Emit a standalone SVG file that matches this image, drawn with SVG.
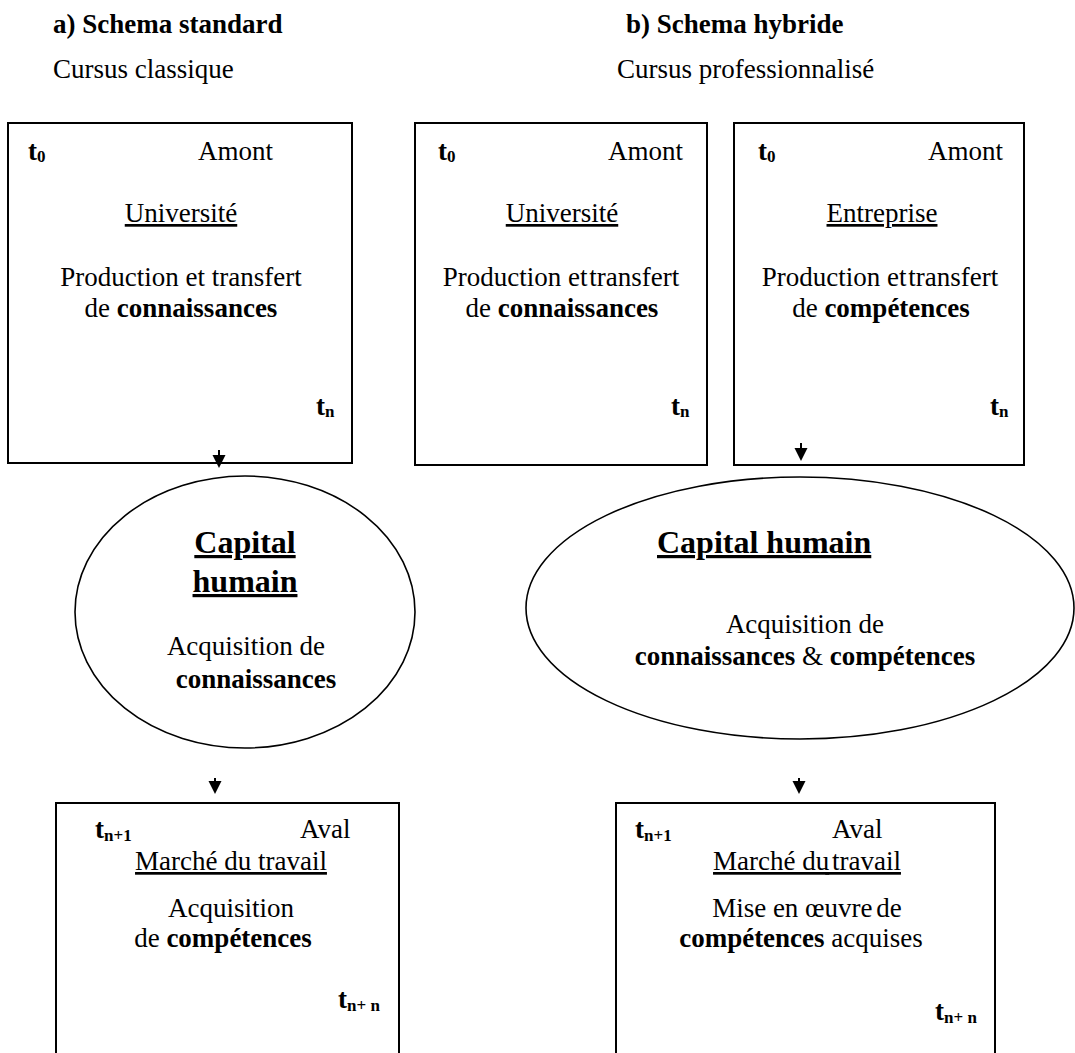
<svg xmlns="http://www.w3.org/2000/svg" width="1075" height="1053" viewBox="0 0 1075 1053" font-family="'Liberation Serif', 'DejaVu Serif', serif">
<style>
text{font-family:'Liberation Serif','Times New Roman','DejaVu Serif',serif;font-size:27px;fill:#000}
.b{font-weight:bold}
.u{text-decoration:underline}
.m{text-anchor:middle}
.cap{font-size:32px;font-weight:bold;text-decoration:underline}
.sub{font-size:17px;font-weight:bold}
.box{fill:none;stroke:#000;stroke-width:2}
.ell{fill:none;stroke:#000;stroke-width:1.6}
.conn{stroke:#000;stroke-width:2;fill:none}
</style>
<defs>
<marker id="ah" markerWidth="14" markerHeight="14" refX="0" refY="7" orient="auto" markerUnits="userSpaceOnUse">
<path d="M0,0.5 L13,7 L0,13.5 Z" fill="#000"/>
</marker>
</defs>
<rect width="1075" height="1053" fill="#fff"/>

<g id="headers">
<text class="b" x="53" y="33">a) Schema standard</text>
<text x="53" y="78">Cursus classique</text>
<text class="b" x="626" y="33">b) Schema hybride</text>
<text x="617" y="78">Cursus professionnalisé</text>
</g>

<g id="box-universite-a">
<rect class="box" x="8" y="123" width="344" height="340"/>
<text class="b" x="28" y="160">t<tspan class="sub" dy="2">0</tspan></text>
<text x="198" y="160">Amont</text>
<text class="u m" x="181" y="222">Université</text>
<text class="m" x="181" y="286">Production et transfert</text>
<text class="m" x="181" y="317">de <tspan class="b">connaissances</tspan></text>
<text class="b" x="316" y="415">t<tspan class="sub" dy="2">n</tspan></text>
</g>

<g id="box-universite-b">
<rect class="box" x="415" y="123" width="292" height="342"/>
<text class="b" x="438" y="160">t<tspan class="sub" dy="2">0</tspan></text>
<text x="683" y="160" text-anchor="end">Amont</text>
<text class="u m" x="562" y="222">Université</text>
<text class="m" x="561" y="286">Production et<tspan dx="-5"> transfert</tspan></text>
<text class="m" x="562" y="317">de <tspan class="b">connaissances</tspan></text>
<text class="b" x="671" y="415">t<tspan class="sub" dy="2">n</tspan></text>
</g>

<g id="box-entreprise">
<rect class="box" x="734" y="123" width="290" height="342"/>
<text class="b" x="758" y="160">t<tspan class="sub" dy="2">0</tspan></text>
<text x="1003" y="160" text-anchor="end">Amont</text>
<text class="u m" x="882" y="222">Entreprise</text>
<text class="m" x="880" y="286">Production et<tspan dx="-5"> transfert</tspan></text>
<text class="m" x="881" y="317">de <tspan class="b">compétences</tspan></text>
<text class="b" x="990" y="415">t<tspan class="sub" dy="2">n</tspan></text>
</g>

<g id="capital-humain-a">
<ellipse class="ell" cx="245" cy="612" rx="170" ry="136"/>
<text class="cap m" x="245" y="553">Capital</text>
<text class="cap m" x="245" y="592">humain</text>
<text class="m" x="246" y="655">Acquisition de</text>
<text class="b m" x="256" y="688">connaissances</text>
</g>

<g id="capital-humain-b">
<ellipse class="ell" cx="800" cy="608" rx="274" ry="131"/>
<text class="cap" x="657" y="553">Capital humain</text>
<text class="m" x="805" y="633">Acquisition de</text>
<text class="m" x="805" y="665"><tspan class="b">connaissances</tspan> &amp; <tspan class="b">compétences</tspan></text>
</g>

<g id="marche-travail-a">
<rect class="box" x="56" y="803" width="343" height="270"/>
<text class="b" x="95" y="838">t<tspan class="sub" dy="3">n+1</tspan></text>
<text x="300" y="838">Aval</text>
<text class="u m" x="231" y="870">Marché du travail</text>
<text class="m" x="231" y="917">Acquisition</text>
<text class="m" x="223" y="947">de <tspan class="b">compétences</tspan></text>
<text class="b" x="338" y="1008">t<tspan class="sub" dy="3">n+ n</tspan></text>
</g>

<g id="marche-travail-b">
<rect class="box" x="616" y="803" width="379" height="270"/>
<text class="b" x="635" y="838">t<tspan class="sub" dy="3">n+1</tspan></text>
<text x="832" y="838">Aval</text>
<text class="u m" x="807" y="870">Marché du<tspan dx="-4"> travail</tspan></text>
<text class="m" x="807" y="917">Mise en œuvre<tspan dx="-3"> de</tspan></text>
<text class="m" x="801" y="947"><tspan class="b">compétences</tspan> acquises</text>
<text class="b" x="935" y="1020">t<tspan class="sub" dy="3">n+ n</tspan></text>
</g>

<g id="connectors">
<line class="conn" x1="219" y1="450" x2="219" y2="455" marker-end="url(#ah)"/>
<line class="conn" x1="801" y1="443" x2="801" y2="448" marker-end="url(#ah)"/>
<line class="conn" x1="215" y1="778" x2="215" y2="781" marker-end="url(#ah)"/>
<line class="conn" x1="799" y1="778" x2="799" y2="781" marker-end="url(#ah)"/>
</g>
</svg>
